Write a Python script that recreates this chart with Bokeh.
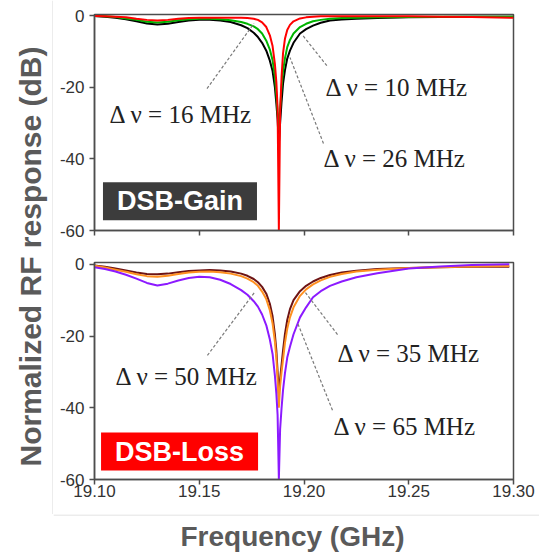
from math import pi
from bokeh.plotting import figure
from bokeh.models import Range1d, FixedTicker, Label, Span, Spacer
from bokeh.layouts import row, column
from bokeh.embed import file_html
from bokeh.resources import INLINE
from bokeh.core.properties import value

# ---------------- data ----------------
# Upper panel: DSB-Gain
x_gain = [19.100, 19.105, 19.110, 19.115, 19.120, 19.125, 19.130, 19.135, 19.140, 19.145,
          19.150, 19.155, 19.160, 19.165, 19.170, 19.173, 19.176, 19.178, 19.180, 19.182,
          19.1837, 19.185, 19.1861, 19.1868, 19.1874, 19.1880, 19.1886, 19.1893, 19.1900,
          19.1909, 19.192, 19.1933, 19.195, 19.1981, 19.201, 19.2043, 19.208, 19.2124,
          19.218, 19.225, 19.235, 19.250, 19.265, 19.280, 19.300]
gain_26MHz = [-0.1, -0.3, -0.6, -1.0, -1.6, -2.2, -2.5, -2.3, -1.8, -1.4,
              -1.2, -1.2, -1.4, -1.8, -2.7, -3.5, -4.8, -6.0, -7.6, -9.8,
              -12.6, -15.5, -20.0, -24.5, -29.0, -36.0, -30.0, -24.0, -19.0,
              -15.3, -12.0, -9.8, -7.6, -5.0, -3.8, -2.8, -2.0, -1.4,
              -1.1, -0.9, -0.7, -0.5, -0.4, -0.3, -0.3]
gain_16MHz = [-0.1, -0.2, -0.4, -0.8, -1.2, -1.7, -1.9, -1.7, -1.3, -1.0,
              -0.9, -0.9, -1.0, -1.3, -1.8, -2.3, -3.0, -3.8, -5.0, -7.0,
              -9.5, -12.5, -17.0, -22.0, -27.0, -32.0, -26.0, -20.0, -15.5,
              -12.0, -8.8, -6.8, -5.0, -3.2, -2.3, -1.6, -1.2, -0.9,
              -0.7, -0.6, -0.5, -0.4, -0.3, -0.3, -0.3]
gain_10MHz = [-0.1, -0.2, -0.3, -0.5, -0.9, -1.2, -1.4, -1.2, -0.9, -0.7,
              -0.6, -0.6, -0.6, -0.6, -0.6, -0.7, -0.9, -1.2, -1.9, -3.2,
              -5.5, -8.5, -13.5, -18.5, -26.0, -60.0, -27.0, -17.0, -10.5,
              -6.5, -4.0, -2.6, -1.6, -0.8, -0.5, -0.3, -0.2, -0.2,
              -0.2, -0.2, -0.2, -0.2, -0.3, -0.4, -0.6]

# Lower panel: DSB-Loss
x_loss = [19.100, 19.105, 19.110, 19.115, 19.120, 19.125, 19.130, 19.135, 19.140, 19.145,
          19.150, 19.155, 19.160, 19.165, 19.170, 19.173, 19.176, 19.178, 19.180, 19.182,
          19.1837, 19.185, 19.1861, 19.1868, 19.1874, 19.1880, 19.1886, 19.1893, 19.1900,
          19.1909, 19.192, 19.1933, 19.195, 19.1981, 19.201, 19.2043, 19.208, 19.2124,
          19.218, 19.225, 19.235, 19.250, 19.265, 19.280, 19.298]
loss_35MHz = [-0.3, -0.7, -1.2, -1.7, -2.3, -2.7, -2.8, -2.6, -2.2, -1.9,
              -1.7, -1.6, -1.7, -2.0, -2.6, -3.2, -4.1, -5.0, -6.3, -8.2,
              -11.0, -14.5, -19.5, -24.0, -30.0, -36.0, -32.0, -28.0, -24.0,
              -19.5, -15.5, -12.5, -10.0, -7.5, -6.0, -4.8, -3.8, -3.0,
              -2.3, -1.8, -1.3, -1.0, -0.8, -0.7, -0.7]
loss_50MHz = [-0.4, -0.9, -1.5, -2.1, -2.8, -3.3, -3.5, -3.2, -2.7, -2.3,
              -2.1, -2.0, -2.2, -2.6, -3.3, -4.0, -5.0, -6.0, -7.6, -9.7,
              -12.8, -16.5, -21.5, -26.0, -32.0, -40.0, -34.0, -30.0, -26.5,
              -22.0, -18.0, -14.8, -12.0, -8.8, -7.0, -5.6, -4.5, -3.5,
              -2.7, -2.0, -1.5, -1.0, -0.8, -0.6, -0.5]
loss_65MHz = [-0.8, -1.3, -2.0, -2.9, -4.0, -5.2, -5.9, -5.4, -4.5, -3.8,
              -3.5, -3.6, -4.3, -5.5, -7.2, -8.5, -10.3, -11.8, -14.0, -17.0,
              -21.0, -25.0, -31.0, -36.0, -42.0, -60.0, -46.0, -40.0, -35.0,
              -30.4, -26.0, -23.0, -19.5, -14.8, -12.0, -9.2, -7.5, -6.0,
              -4.8, -3.6, -2.5, -1.2, -0.6, -0.2, 0.0]

x_ticks = [19.10, 19.15, 19.20, 19.25, 19.30]
x_tick_labels = ["19.10", "19.15", "19.20", "19.25", "19.30"]
y_ticks = [-60, -40, -20, 0]
y_tick_labels = ["-60", "-40", "-20", "0"]

y_title = "Normalized RF response (dB)"
x_title = "Frequency (GHz)"

# annotation texts and leader lines
gain_notes = ["Δ ν = 16 MHz", "Δ ν = 10 MHz", "Δ ν = 26 MHz"]
gain_note_x = [19.1072, 19.2103, 19.2093]
gain_note_y = [-27.6, -20.1, -39.9]
gain_lead_x0 = [19.1537, 19.2109, 19.2093]
gain_lead_y0 = [-20.4, -14.0, -35.7]
gain_lead_x1 = [19.1761, 19.1995, 19.1933]
gain_lead_y1 = [-2.2, -5.6, -11.7]

loss_notes = ["Δ ν = 50 MHz", "Δ ν = 35 MHz", "Δ ν = 65 MHz"]
loss_note_x = [19.1100, 19.2160, 19.2141]
loss_note_y = [-31.3, -25.0, -45.2]
loss_lead_x0 = [19.1539, 19.2160, 19.2136]
loss_lead_y0 = [-25.4, -19.6, -40.7]
loss_lead_x1 = [19.1763, 19.2007, 19.1969]
loss_lead_y1 = [-7.9, -7.9, -16.3]

AX = "#4d4d4d"
TICK_FONT = "Liberation Sans"
GRAYTXT = "#5a5a5a"
FRAME_GRAY = "#d9d9d9"


def panel(height, ytop, b_top, b_bottom, show_x_labels):
    p = figure(width=486, height=height,
               x_range=Range1d(19.10, 19.30), y_range=Range1d(-60, ytop),
               output_backend="svg", toolbar_location=None,
               min_border_left=41, min_border_right=26,
               min_border_top=b_top, min_border_bottom=b_bottom)
    p.grid.visible = False
    p.outline_line_color = AX
    p.outline_line_width = 1.5
    p.outline_line_alpha = 1.0
    for ax in (p.xaxis[0], p.yaxis[0]):
        ax.axis_line_color = AX
        ax.axis_line_width = 1.5
        ax.major_tick_line_color = AX
        ax.major_tick_line_width = 1.5
        ax.major_tick_out = 5
        ax.major_tick_in = 0
        ax.minor_tick_line_color = None
        ax.major_label_text_font = TICK_FONT
        ax.major_label_text_font_size = "17px"
        ax.major_label_text_color = "#333333"
    p.xaxis.ticker = FixedTicker(ticks=x_ticks)
    p.yaxis.ticker = FixedTicker(ticks=y_ticks)
    p.yaxis.major_label_overrides = dict(zip(y_ticks, y_tick_labels))
    p.yaxis.major_label_standoff = 5
    if show_x_labels:
        p.xaxis.major_label_overrides = dict(zip(x_ticks, x_tick_labels))
        p.xaxis.major_label_standoff = 0
    else:
        p.xaxis.major_label_overrides = {t: "" for t in x_ticks}
        p.xaxis.major_label_text_font_size = "0px"
        p.xaxis.major_label_standoff = 0
    return p


def badge(p, x, y, text, color):
    p.add_layout(Label(x=x, y=y, text=text, text_align="center", text_baseline="middle",
                       text_color="white", text_font=TICK_FONT, text_font_style="bold",
                       text_font_size="27px", background_fill_color=color,
                       background_fill_alpha=1.0,
                       padding=dict(left=14, right=14, top=4, bottom=4)))


def notes(p, xs, ys, texts, x0, y0, x1, y1):
    p.segment(x0=x0, y0=y0, x1=x1, y1=y1, line_color="#7a7a7a", line_width=1.2,
              line_dash="3 2")
    p.text(x=xs, y=ys, text=texts, text_font=value("Liberation Serif"),
           text_font_size="25px", text_align="left", text_baseline="middle",
           text_color="#222222")


# ---------- upper panel ----------
top = panel(246, 0.3, 14, 16, False)
top.line(x_gain, gain_26MHz, line_color="#000000", line_width=2)
top.line(x_gain, gain_16MHz, line_color="#00b400", line_width=2)
top.line(x_gain, gain_10MHz, line_color="#ff0000", line_width=2)
notes(top, gain_note_x, gain_note_y, gain_notes, gain_lead_x0, gain_lead_y0, gain_lead_x1, gain_lead_y1)
badge(top, 19.1408, -51.8, "DSB-Gain", "#3c3c3c")

# ---------- lower panel ----------
bot = panel(268, 0.5, 16, 35, True)
bot.line(x_loss, loss_35MHz, line_color="#6e1414", line_width=2)
bot.line(x_loss, loss_50MHz, line_color="#ff9020", line_width=2)
bot.line(x_loss, loss_65MHz, line_color="#8c1aff", line_width=2)
notes(bot, loss_note_x, loss_note_y, loss_notes, loss_lead_x0, loss_lead_y0, loss_lead_x1, loss_lead_y1)
badge(bot, 19.1406, -52.2, "DSB-Loss", "#ff0000")

# ---------- y title strip ----------
lab = figure(width=53, height=514, x_range=Range1d(0, 53), y_range=Range1d(0, 514),
             x_axis_type=None, y_axis_type=None, min_border=0,
             output_backend="svg", toolbar_location=None)
lab.grid.visible = False
lab.outline_line_color = None
lab.text(x=[30], y=[258], text=[y_title], angle=pi / 2, text_align="center",
         text_baseline="middle", text_font=value(TICK_FONT), text_font_style="bold",
         text_font_size="30px", text_color=GRAYTXT)
lab.add_layout(Span(location=52.5, dimension="height", line_color=FRAME_GRAY, line_width=1))

# ---------- x title strip ----------
xt = figure(width=486, height=43, x_range=Range1d(0, 486), y_range=Range1d(0, 43),
            x_axis_type=None, y_axis_type=None, min_border=0,
            output_backend="svg", toolbar_location=None)
xt.grid.visible = False
xt.outline_line_color = None
xt.text(x=[239], y=[21], text=[x_title], text_align="center", text_baseline="middle",
        text_font=value(TICK_FONT), text_font_style="bold", text_font_size="28px",
        text_color=GRAYTXT)
xt.add_layout(Span(location=42.5, dimension="width", line_color=FRAME_GRAY, line_width=1))

layout = column(row(lab, column(top, bot)), row(Spacer(width=53, height=43), xt))

open("out.html", "w").write(file_html(layout, INLINE))
